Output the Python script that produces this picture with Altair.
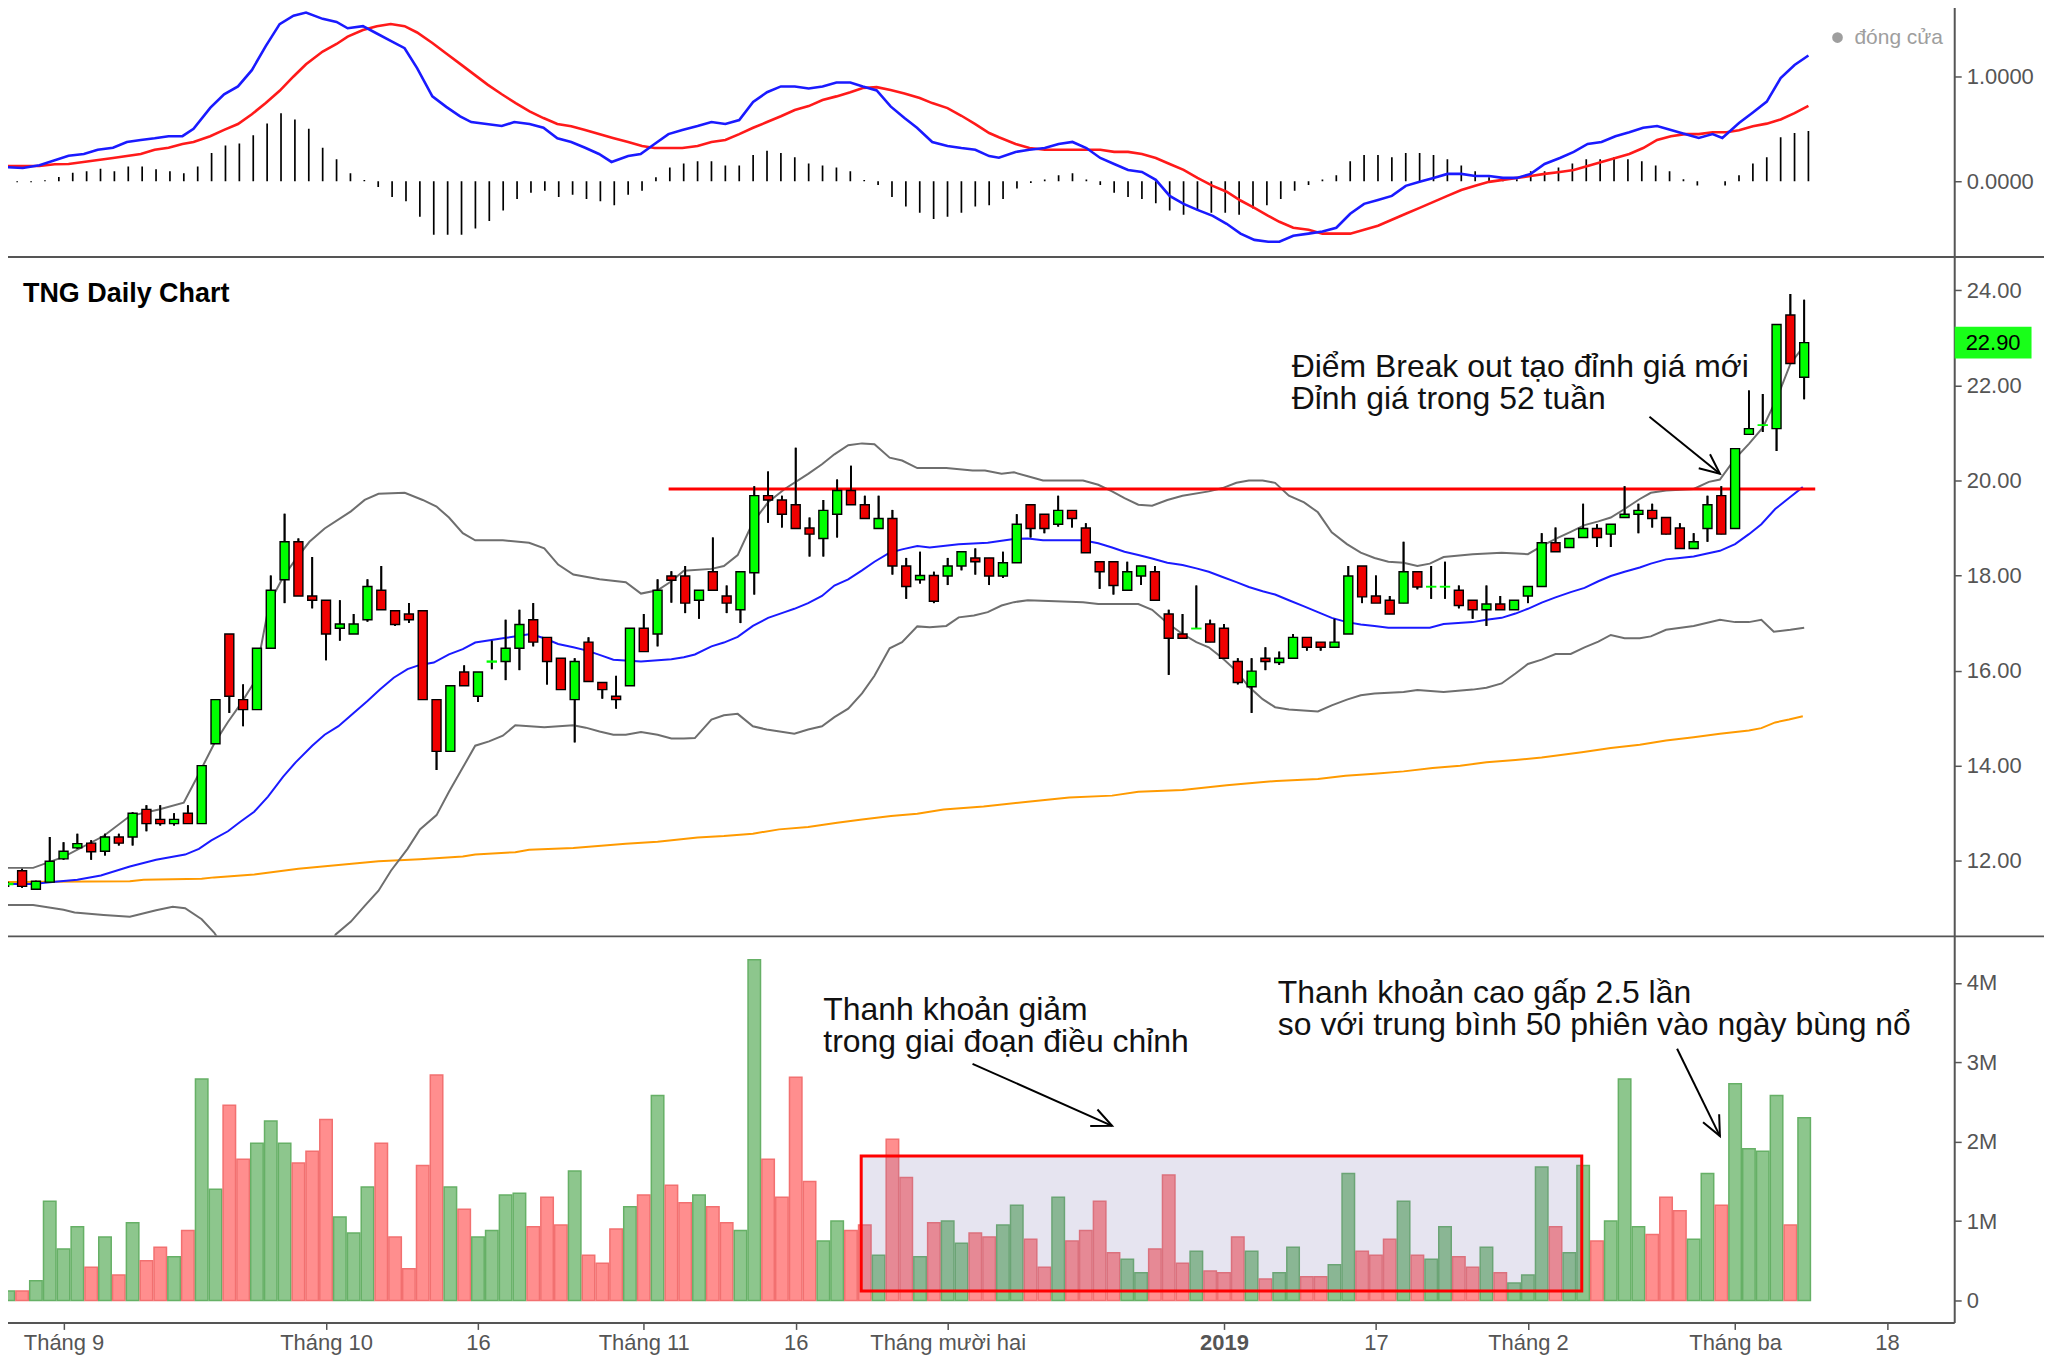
import json
import math
import altair as alt
import pandas as pd

# ---------------- data ----------------
opens = [
    11.50, 11.79, 11.40, 11.55, 12.04, 12.27, 12.37, 12.20, 12.50, 12.50,
    13.08, 12.87, 12.78, 13.00, 12.78, 14.46, 16.77, 15.39, 15.18, 16.47,
    17.91, 18.71, 17.57, 17.48, 16.89, 16.77, 17.07, 17.69, 17.26, 17.19,
    17.26, 15.39, 14.30, 15.97, 15.46, 16.18, 16.19, 16.47, 17.07, 16.70,
    16.26, 15.39, 16.60, 15.75, 15.46, 15.68, 16.89, 16.77, 17.99, 17.99,
    17.48, 18.08, 17.57, 17.28, 18.06, 19.68, 19.59, 19.49, 19.00, 18.78,
    19.29, 19.79, 19.49, 18.99, 19.20, 18.20, 17.91, 18.00, 17.99, 18.20,
    18.37, 18.37, 17.99, 18.27, 19.49, 19.29, 19.08, 19.37, 19.00, 18.29,
    18.29, 17.69, 17.99, 18.08, 17.19, 16.77, 16.88, 16.98, 16.89, 16.19,
    15.66, 16.26, 16.17, 16.26, 16.70, 16.60, 16.49, 16.77, 18.20, 17.57,
    17.48, 17.42, 18.08, 17.76, 17.76, 17.69, 17.48, 17.28, 17.40, 17.28,
    17.57, 17.77, 18.69, 18.59, 18.80, 18.99, 18.87, 19.22, 19.29, 19.37,
    19.22, 19.00, 18.57, 18.99, 19.68, 18.99, 20.97, 21.16, 21.09, 23.48,
    22.17]
closes = [
    11.52, 11.46, 11.57, 11.99, 12.20, 12.36, 12.19, 12.50, 12.37, 13.00,
    12.78, 12.78, 12.87, 12.78, 14.00, 15.39, 15.46, 15.18, 16.47, 17.69,
    18.71, 17.57, 17.48, 16.77, 16.98, 16.98, 17.77, 17.28, 16.97, 17.07,
    15.39, 14.30, 15.68, 15.68, 15.97, 16.20, 16.47, 16.97, 16.60, 16.19,
    15.60, 16.19, 15.77, 15.60, 15.39, 16.89, 16.40, 17.69, 17.90, 17.42,
    17.69, 17.69, 17.42, 18.08, 19.68, 19.59, 19.29, 18.99, 18.87, 19.37,
    19.79, 19.49, 19.20, 19.20, 18.20, 17.77, 18.00, 17.46, 18.20, 18.50,
    18.29, 17.99, 18.27, 19.08, 18.99, 18.99, 19.37, 19.20, 18.48, 18.08,
    17.79, 18.08, 18.20, 17.48, 16.68, 16.68, 16.89, 16.60, 16.26, 15.75,
    15.99, 16.19, 16.26, 16.70, 16.49, 16.49, 16.60, 17.99, 17.55, 17.42,
    17.19, 18.08, 17.76, 17.77, 17.77, 17.37, 17.28, 17.40, 17.28, 17.48,
    17.77, 18.69, 18.50, 18.78, 18.99, 18.80, 19.08, 19.29, 19.37, 19.20,
    18.87, 18.57, 18.71, 19.49, 18.87, 20.67, 21.09, 21.17, 23.28, 22.46,
    22.90]
highs = [
    11.56, 11.83, 11.58, 12.50, 12.39, 12.57, 12.43, 12.57, 12.57, 13.02,
    13.17, 13.17, 13.00, 13.17, 14.00, 15.39, 16.77, 15.71, 16.47, 18.00,
    19.30, 18.78, 18.39, 17.48, 17.48, 17.19, 17.92, 18.20, 17.26, 17.42,
    17.26, 15.39, 15.68, 16.11, 15.97, 16.63, 17.07, 17.28, 17.42, 16.70,
    16.26, 16.26, 16.70, 15.75, 15.89, 16.89, 17.19, 17.92, 18.09, 18.20,
    17.69, 18.80, 17.79, 18.08, 19.88, 20.19, 19.68, 20.69, 19.22, 19.59,
    20.02, 20.31, 19.68, 19.68, 19.38, 18.37, 18.50, 18.08, 18.37, 18.50,
    18.57, 18.37, 18.50, 19.29, 19.49, 19.29, 19.68, 19.37, 19.10, 18.29,
    18.29, 18.29, 18.20, 18.20, 17.28, 17.19, 17.79, 17.07, 16.98, 16.26,
    16.26, 16.49, 16.40, 16.77, 16.70, 16.60, 17.09, 18.20, 18.20, 18.00,
    17.57, 18.71, 18.08, 18.20, 18.29, 17.79, 17.48, 17.79, 17.57, 17.48,
    17.77, 18.89, 19.01, 18.78, 19.51, 19.08, 19.08, 19.88, 19.51, 19.51,
    19.22, 19.10, 18.89, 19.68, 19.88, 20.67, 21.89, 21.82, 23.28, 23.92,
    23.80]
lows = [
    11.45, 11.43, 11.39, 11.55, 12.02, 12.25, 12.02, 12.11, 12.32, 12.32,
    12.62, 12.74, 12.74, 12.78, 12.78, 14.46, 15.11, 14.83, 15.18, 16.47,
    17.42, 17.57, 17.31, 16.22, 16.63, 16.77, 17.03, 17.28, 16.94, 17.00,
    15.39, 13.91, 14.30, 15.68, 15.34, 16.03, 15.80, 16.01, 16.51, 15.71,
    15.60, 14.49, 15.77, 15.41, 15.20, 15.68, 16.40, 16.51, 17.43, 17.21,
    17.09, 17.69, 17.21, 17.00, 17.60, 19.11, 19.01, 18.99, 18.40, 18.40,
    18.80, 19.49, 19.20, 18.99, 18.02, 17.51, 17.83, 17.42, 17.80, 18.11,
    18.02, 17.80, 17.95, 18.27, 18.80, 18.89, 19.03, 19.01, 18.48, 17.72,
    17.60, 17.69, 17.80, 17.48, 15.91, 16.68, 16.88, 16.60, 16.26, 15.71,
    15.11, 16.01, 16.12, 16.26, 16.42, 16.42, 16.49, 16.77, 17.42, 17.42,
    17.19, 17.42, 17.71, 17.51, 17.51, 17.31, 17.09, 16.94, 17.28, 17.28,
    17.42, 17.77, 18.50, 18.59, 18.80, 18.60, 18.60, 19.22, 18.89, 19.01,
    18.87, 18.57, 18.57, 18.71, 18.87, 18.99, 20.97, 21.02, 20.62, 22.46,
    21.71]
volumes_m = [
    0.12, 0.12, 0.25, 1.25, 0.65, 0.93, 0.42, 0.80, 0.32, 0.98,
    0.50, 0.67, 0.55, 0.88, 2.79, 1.40, 2.46, 1.78, 1.98, 2.26,
    1.98, 1.73, 1.88, 2.28, 1.05, 0.85, 1.43, 1.98, 0.80, 0.40,
    1.70, 2.84, 1.43, 1.15, 0.80, 0.88, 1.33, 1.35, 0.93, 1.30,
    0.95, 1.63, 0.57, 0.47, 0.90, 1.18, 1.33, 2.58, 1.45, 1.23,
    1.33, 1.18, 0.98, 0.88, 4.29, 1.78, 1.30, 2.81, 1.50, 0.75,
    1.00, 0.88, 0.95, 0.57, 2.03, 1.55, 0.55, 0.98, 1.00, 0.72,
    0.85, 0.80, 0.95, 1.20, 0.77, 0.42, 1.30, 0.75, 0.88, 1.25,
    0.60, 0.52, 0.35, 0.65, 1.58, 0.47, 0.62, 0.37, 0.35, 0.80,
    0.62, 0.27, 0.35, 0.67, 0.30, 0.30, 0.45, 1.60, 0.62, 0.57,
    0.77, 1.25, 0.57, 0.52, 0.93, 0.55, 0.42, 0.67, 0.35, 0.22,
    0.32, 1.68, 0.93, 0.60, 1.70, 0.75, 1.00, 2.79, 0.93, 0.83,
    1.30, 1.13, 0.77, 1.60, 1.20, 2.73, 1.91, 1.88, 2.58, 0.95,
    2.30]
macd_hist = [
    0.0, -0.01, -0.01, 0.01, 0.04, 0.08, 0.095, 0.12, 0.095, 0.14,
    0.14, 0.115, 0.095, 0.076, 0.14, 0.27, 0.34, 0.36, 0.44, 0.55,
    0.65, 0.59, 0.50, 0.32, 0.21, 0.076, 0.013, -0.054, -0.15, -0.19,
    -0.34, -0.51, -0.51, -0.51, -0.45, -0.38, -0.28, -0.17, -0.11, -0.09,
    -0.15, -0.13, -0.17, -0.19, -0.23, -0.13, -0.09, 0.038, 0.13, 0.17,
    0.19, 0.19, 0.15, 0.15, 0.25, 0.29, 0.27, 0.23, 0.17, 0.15,
    0.13, 0.095, 0.013, -0.035, -0.15, -0.24, -0.30, -0.36, -0.34, -0.30,
    -0.24, -0.23, -0.17, -0.07, -0.016, 0.016, 0.057, 0.076, 0.016, -0.035,
    -0.11, -0.15, -0.17, -0.21, -0.28, -0.32, -0.28, -0.30, -0.30, -0.32,
    -0.26, -0.23, -0.17, -0.09, -0.035, 0.016, 0.057, 0.19, 0.25, 0.25,
    0.23, 0.27, 0.27, 0.25, 0.21, 0.15, 0.095, 0.038, 0.013, 0.02,
    0.095, 0.095, 0.13, 0.17, 0.21, 0.21, 0.23, 0.21, 0.19, 0.15,
    0.095, 0.02, -0.04, 0.0, -0.04, 0.057, 0.17, 0.23, 0.42, 0.46,
    0.48]

macd_line = [
    (-0.2, 0.137), (1.4, 0.127), (2.6, 0.152), (4.7, 0.244), (5.8, 0.26), (6.8, 0.30), (7.9, 0.32),
    (8.9, 0.375), (9.9, 0.394), (10.9, 0.41), (11.9, 0.43), (12.9, 0.43), (13.7, 0.50), (14.9, 0.70),
    (15.9, 0.83), (16.9, 0.905), (17.9, 1.06), (18.9, 1.29), (19.9, 1.50), (20.9, 1.58), (21.8, 1.61),
    (23.0, 1.55), (24.0, 1.52), (24.8, 1.46), (25.9, 1.48), (26.9, 1.41), (27.9, 1.34), (28.9, 1.27),
    (29.8, 1.08), (30.9, 0.81), (31.9, 0.71), (32.9, 0.62), (33.7, 0.565), (35.9, 0.527), (36.8, 0.565),
    (37.9, 0.546), (38.9, 0.51), (39.9, 0.41), (40.9, 0.375), (41.9, 0.32), (42.9, 0.26), (43.8, 0.184),
    (45.0, 0.24), (45.9, 0.26), (46.9, 0.356), (47.9, 0.45), (48.9, 0.49), (50.0, 0.527), (51.0, 0.565),
    (52.0, 0.546), (53.0, 0.584), (54.0, 0.756), (55.0, 0.85), (56.0, 0.905), (57.0, 0.905), (58.0, 0.886),
    (59.0, 0.905), (60.0, 0.943), (61.0, 0.943), (61.9, 0.905), (62.9, 0.867), (63.9, 0.714), (64.9, 0.603),
    (65.8, 0.51), (66.9, 0.375), (68.0, 0.337), (69.0, 0.317), (70.0, 0.30), (71.0, 0.24), (71.7, 0.225),
    (72.9, 0.28), (73.9, 0.30), (75.0, 0.317), (76.0, 0.356), (77.0, 0.375), (78.0, 0.317), (79.0, 0.222),
    (80.0, 0.165), (81.0, 0.108), (82.0, 0.089), (83.0, 0.013), (84.0, -0.14), (85.0, -0.216), (86.0, -0.273),
    (87.1, -0.33), (88.1, -0.406), (89.1, -0.50), (90.1, -0.56), (91.1, -0.578), (91.9, -0.578), (92.9, -0.52),
    (94.0, -0.50), (95.0, -0.48), (96.0, -0.444), (97.0, -0.31), (98.0, -0.216), (99.0, -0.178), (100.0, -0.14),
    (101.0, -0.044), (102.0, -0.006), (103.0, 0.032), (104.0, 0.07), (105.0, 0.07), (106.0, 0.05), (107.0, 0.05),
    (108.0, 0.032), (109.0, 0.032), (110.0, 0.07), (111.0, 0.165), (112.1, 0.222), (113.1, 0.28), (114.1, 0.356),
    (115.1, 0.375), (116.1, 0.43), (117.1, 0.467), (118.1, 0.51), (119.1, 0.527), (120.1, 0.49), (121.1, 0.45),
    (122.1, 0.413), (123.1, 0.45), (123.8, 0.413), (125.0, 0.556), (126.0, 0.657), (127.0, 0.76), (128.0, 0.984),
    (129.0, 1.11), (130.0, 1.20)]
signal_line = [
    (-0.2, 0.146), (2.6, 0.146), (3.7, 0.162), (4.7, 0.165), (7.9, 0.222), (9.9, 0.26), (10.9, 0.30),
    (11.9, 0.32), (12.9, 0.356), (13.7, 0.375), (14.9, 0.43), (15.9, 0.49), (16.9, 0.546), (17.9, 0.64),
    (18.9, 0.746), (19.9, 0.863), (20.9, 1.0), (21.8, 1.117), (23.0, 1.238), (24.0, 1.31), (24.8, 1.38),
    (25.9, 1.444), (26.9, 1.48), (27.9, 1.50), (28.9, 1.48), (29.8, 1.42), (30.9, 1.32), (31.9, 1.22),
    (32.9, 1.12), (33.9, 1.02), (34.9, 0.92), (35.9, 0.83), (36.9, 0.746), (37.9, 0.667), (38.9, 0.603),
    (39.9, 0.546), (40.9, 0.524), (41.9, 0.49), (42.9, 0.45), (43.9, 0.413), (45.0, 0.375), (46.0, 0.337),
    (46.9, 0.317), (48.9, 0.317), (50.0, 0.337), (51.0, 0.375), (52.0, 0.394), (53.0, 0.45), (54.0, 0.51),
    (55.0, 0.565), (56.0, 0.62), (57.0, 0.68), (58.0, 0.717), (59.0, 0.775), (60.0, 0.81), (61.0, 0.85),
    (61.9, 0.89), (62.9, 0.898), (63.9, 0.87), (64.9, 0.838), (66.0, 0.794), (66.9, 0.746), (68.0, 0.698),
    (69.0, 0.625), (70.0, 0.546), (71.0, 0.46), (71.7, 0.42), (72.9, 0.356), (73.9, 0.317), (75.0, 0.30),
    (79.0, 0.30), (80.0, 0.28), (81.0, 0.28), (82.0, 0.26), (83.0, 0.222), (84.0, 0.165), (85.0, 0.108),
    (86.0, 0.032), (87.1, -0.044), (88.1, -0.10), (89.1, -0.184), (90.1, -0.254), (91.1, -0.33), (91.9, -0.387),
    (92.9, -0.444), (94.0, -0.463), (95.0, -0.50), (97.0, -0.50), (98.0, -0.463), (99.0, -0.425), (100.0, -0.368),
    (101.0, -0.31), (102.0, -0.254), (103.0, -0.197), (104.0, -0.14), (105.0, -0.083), (106.0, -0.044),
    (107.0, -0.006), (108.0, 0.013), (109.0, 0.032), (110.0, 0.05), (111.0, 0.07), (112.1, 0.089), (113.1, 0.108),
    (114.1, 0.146), (115.1, 0.184), (116.1, 0.222), (117.1, 0.26), (118.1, 0.317), (119.1, 0.394), (120.1, 0.43),
    (121.1, 0.45), (122.1, 0.45), (123.1, 0.467), (124.1, 0.467), (125.0, 0.486), (126.0, 0.524), (127.0, 0.55),
    (128.0, 0.59), (129.0, 0.65), (130.0, 0.72)]

bb_upper = [
    (-0.2, 11.85), (1.8, 11.85), (4.0, 12.08), (6.9, 12.52), (8.8, 12.94), (10.9, 13.08), (12.7, 13.22),
    (13.6, 13.72), (14.9, 14.46), (15.9, 14.92), (16.8, 15.29), (17.8, 15.75), (18.9, 17.42), (19.9, 17.97),
    (20.8, 18.34), (21.8, 18.71), (22.9, 18.99), (24.8, 19.35), (25.8, 19.59), (26.8, 19.72), (28.7, 19.74),
    (30.0, 19.59), (31.0, 19.45), (31.9, 19.22), (32.9, 18.89), (33.8, 18.74), (35.8, 18.74), (37.7, 18.69),
    (38.8, 18.57), (39.8, 18.23), (40.9, 18.02), (42.8, 17.92), (44.7, 17.86), (45.8, 17.62), (47.0, 17.69),
    (48.0, 17.88), (48.9, 18.10), (50.9, 18.14), (51.8, 18.20), (52.8, 18.43), (53.9, 19.12), (55.0, 19.54),
    (56.2, 19.82), (57.9, 20.14), (58.9, 20.34), (59.8, 20.55), (60.8, 20.74), (61.8, 20.78), (62.7, 20.76),
    (63.8, 20.48), (64.7, 20.42), (65.8, 20.26), (67.9, 20.26), (69.8, 20.21), (70.7, 20.21), (71.9, 20.14),
    (72.8, 20.17), (73.8, 20.09), (74.9, 20.00), (77.8, 20.00), (78.9, 19.91), (79.9, 19.77), (80.8, 19.63),
    (81.8, 19.49), (82.8, 19.47), (83.9, 19.59), (85.0, 19.68), (86.9, 19.77), (87.9, 19.84), (88.9, 19.95),
    (89.8, 20.00), (90.8, 20.00), (91.7, 19.95), (92.7, 19.68), (93.8, 19.54), (94.8, 19.33), (95.8, 18.91),
    (96.9, 18.66), (97.9, 18.48), (98.9, 18.37), (99.9, 18.29), (101.0, 18.27), (102.0, 18.20), (102.9, 18.25),
    (103.9, 18.39), (106.0, 18.45), (108.1, 18.48), (110.0, 18.45), (111.0, 18.62), (112.0, 18.77),
    (113.1, 18.92), (114.1, 19.06), (115.1, 19.14), (116.0, 19.22), (117.0, 19.40), (118.1, 19.61),
    (118.9, 19.74), (120.0, 19.79), (122.0, 19.82), (123.1, 19.97), (123.9, 20.02), (125.0, 20.46),
    (126.0, 20.77), (127.0, 21.11), (128.0, 21.71), (129.0, 22.45), (130.0, 22.84)]
bb_lower = [
    (-0.2, 11.07), (1.8, 11.07), (4.0, 10.97), (4.8, 10.91), (6.9, 10.86), (8.8, 10.82), (10.7, 10.96),
    (11.9, 11.03), (12.8, 11.00), (14.0, 10.77), (14.9, 10.49), (16.0, 10.0), (17.0, 9.4), (18.0, 8.9),
    (19.0, 8.6), (20.0, 8.5), (21.0, 8.7), (22.0, 9.3), (23.0, 10.0), (23.7, 10.45), (24.8, 10.72),
    (25.8, 11.05), (26.8, 11.37), (27.7, 11.79), (28.9, 12.25), (29.8, 12.66), (31.0, 12.96), (31.9, 13.45),
    (32.9, 13.96), (33.8, 14.42), (34.8, 14.51), (35.8, 14.63), (36.7, 14.85), (38.8, 14.81), (40.9, 14.85),
    (41.8, 14.80), (42.8, 14.72), (43.8, 14.65), (44.7, 14.65), (45.8, 14.71), (47.0, 14.65), (48.0, 14.57),
    (48.9, 14.57), (49.7, 14.58), (50.9, 14.97), (51.8, 15.06), (52.8, 15.09), (53.9, 14.83), (54.9, 14.76),
    (56.9, 14.67), (57.9, 14.76), (58.9, 14.83), (59.8, 15.02), (60.8, 15.20), (61.8, 15.52), (62.7, 15.89),
    (63.8, 16.47), (64.7, 16.60), (65.8, 16.93), (66.7, 16.91), (67.9, 16.94), (68.8, 17.12), (69.9, 17.16),
    (70.9, 17.23), (71.9, 17.37), (72.8, 17.44), (73.8, 17.48), (77.8, 17.44), (78.9, 17.40), (81.8, 17.40),
    (82.8, 17.28), (83.9, 17.00), (85.0, 16.77), (86.0, 16.60), (86.9, 16.49), (87.9, 16.26), (88.9, 15.99),
    (89.8, 15.66), (90.8, 15.40), (91.7, 15.23), (92.7, 15.18), (94.8, 15.14), (95.8, 15.27), (96.9, 15.39),
    (97.9, 15.48), (98.9, 15.52), (101.0, 15.55), (102.0, 15.59), (103.9, 15.55), (106.0, 15.60),
    (107.0, 15.64), (108.1, 15.73), (109.1, 15.94), (110.0, 16.14), (111.0, 16.23), (112.0, 16.35),
    (113.1, 16.35), (114.1, 16.49), (115.1, 16.61), (116.0, 16.75), (117.0, 16.68), (118.1, 16.68),
    (118.9, 16.72), (120.0, 16.86), (122.0, 16.94), (123.9, 17.07), (125.0, 17.02), (126.0, 17.02),
    (126.9, 17.07), (127.8, 16.82), (129.0, 16.86), (130.0, 16.90)]
ma20 = [
    (-0.2, 11.51), (1.8, 11.51), (3.0, 11.55), (5.0, 11.60), (6.7, 11.69), (8.8, 11.88), (10.7, 12.02),
    (12.8, 12.13), (13.8, 12.25), (14.7, 12.43), (15.9, 12.62), (16.8, 12.82), (17.8, 13.03), (18.8, 13.35),
    (19.9, 13.77), (20.8, 14.07), (22.0, 14.42), (22.9, 14.65), (23.9, 14.83), (25.0, 15.11), (26.0, 15.36),
    (26.9, 15.60), (27.9, 15.85), (28.9, 16.03), (29.8, 16.12), (30.8, 16.17), (31.9, 16.34), (32.9, 16.45),
    (33.8, 16.59), (35.8, 16.68), (37.8, 16.77), (38.8, 16.68), (39.8, 16.56), (40.9, 16.49), (41.9, 16.42),
    (42.8, 16.33), (43.8, 16.23), (45.8, 16.19), (48.0, 16.24), (48.9, 16.28), (49.7, 16.34), (50.9, 16.51),
    (51.8, 16.59), (52.8, 16.71), (53.9, 16.94), (55.0, 17.11), (56.2, 17.23), (56.9, 17.30), (57.9, 17.42),
    (58.9, 17.57), (59.8, 17.79), (60.8, 17.92), (61.8, 18.11), (62.7, 18.29), (63.8, 18.48), (64.7, 18.55),
    (65.8, 18.62), (66.7, 18.59), (68.8, 18.66), (70.9, 18.69), (71.9, 18.73), (72.8, 18.77), (73.8, 18.78),
    (74.9, 18.74), (77.8, 18.74), (78.9, 18.68), (79.9, 18.59), (80.8, 18.50), (81.8, 18.43), (82.8, 18.36),
    (83.9, 18.27), (85.0, 18.22), (86.0, 18.15), (86.9, 18.08), (87.9, 17.97), (88.9, 17.86), (89.8, 17.76),
    (90.8, 17.67), (91.7, 17.60), (92.7, 17.48), (93.8, 17.35), (94.8, 17.23), (95.8, 17.11), (96.9, 17.02),
    (97.9, 16.97), (98.9, 16.94), (99.9, 16.90), (102.9, 16.90), (103.9, 16.98), (106.0, 17.02), (107.0, 17.07),
    (108.1, 17.11), (109.1, 17.20), (110.0, 17.30), (111.0, 17.43), (112.0, 17.54), (113.1, 17.65),
    (114.1, 17.74), (115.1, 17.88), (116.0, 17.99), (117.0, 18.08), (118.1, 18.17), (118.9, 18.25),
    (120.0, 18.34), (121.0, 18.37), (122.0, 18.40), (122.9, 18.46), (123.9, 18.52), (125.0, 18.66),
    (126.0, 18.87), (126.9, 19.08), (127.9, 19.40), (128.9, 19.63), (129.9, 19.86)]
ma200 = [
    (-0.2, 11.55), (8.8, 11.57), (9.8, 11.60), (14.0, 11.62), (14.9, 11.65), (17.8, 11.71), (21.0, 11.83),
    (23.9, 11.91), (26.8, 11.99), (29.8, 12.03), (32.9, 12.09), (33.8, 12.13), (36.7, 12.18), (37.7, 12.23),
    (40.9, 12.27), (44.7, 12.36), (47.0, 12.40), (49.9, 12.49), (51.8, 12.52), (53.9, 12.57), (55.8, 12.66),
    (57.9, 12.71), (60.0, 12.80), (61.8, 12.87), (63.9, 12.94), (65.8, 12.99), (67.7, 13.08), (70.6, 13.14),
    (73.8, 13.24), (76.8, 13.33), (79.9, 13.37), (81.8, 13.45), (85.0, 13.49), (88.2, 13.59), (91.8, 13.68),
    (94.8, 13.72), (96.8, 13.79), (98.9, 13.83), (101.0, 13.88), (103.1, 13.95), (105.1, 14.00), (107.0, 14.07),
    (109.1, 14.12), (111.0, 14.17), (113.9, 14.28), (116.0, 14.37), (118.1, 14.44), (120.0, 14.53),
    (122.0, 14.60), (123.9, 14.67), (126.0, 14.74), (126.9, 14.79), (127.9, 14.91), (128.9, 14.97),
    (129.9, 15.04)]

tick_idx = [4, 23, 34, 46, 57, 68, 88, 99, 110, 125, 136]
tick_labels = ["Tháng 9", "Tháng 10", "16", "Tháng 11", "16", "Tháng mười hai",
               "2019", "17", "Tháng 2", "Tháng ba", "18"]
bold_label = "2019"

chart_title = "TNG Daily Chart"
legend_label = "đóng cửa"
last_price = [22.90]
resistance_level = [19.82]
resistance_from = [47.8]
resistance_to = [130.8]

price_note_x = [92.9]
price_note_y = [22.17]
price_note_text = ["Điểm Break out tạo đỉnh giá mới\nĐỉnh giá trong 52 tuần"]
price_arrow = [(118.8, 21.34, 123.9, 20.14)]

vol_note_x = [59.0, 91.9]
vol_note_y = [3.53, 3.75]
vol_note_text = ["Thanh khoản giảm\ntrong giai đoạn điều chỉnh",
                 "Thanh khoản cao gấp 2.5 lần\nso với trung bình 50 phiên vào ngày bùng nổ"]
vol_arrows = [(69.8, 2.98, 79.9, 2.20), (120.8, 3.17, 123.9, 2.07)]
vol_box = [(61.74, 113.9, 1.82, 0.12)]

# ---------------- layout / style ----------------
W = 1958
X_DOM = [-0.165, 140.5]
H_MACD, H_PRICE, H_VOL = 255, 680, 387
MACD_DOM = [-0.714, 1.714]
PRICE_DOM = [10.43, 24.70]
VOL_DOM = [-0.276, 4.585]
FONT = "Liberation Sans"
AX = "#555555"
UP = "datum.close >= datum.open"
HEAD = "M-0.45,-1L0,0L0.45,-1"
BOX = "M-1,-0.4156H1V0.4156H-1Z"

px_x = W / (X_DOM[1] - X_DOM[0])


def head_angle(x0, y0, x1, y1, px_y):
    dx = (x1 - x0) * px_x
    dy = -(y1 - y0) * px_y
    return math.degrees(math.atan2(-dx, dy)) % 360


# identical axis objects are given to every layer of a panel so that they merge cleanly
X_HIDDEN = alt.Axis(labels=False, ticks=False, domain=False, grid=False, title=None)
label_expr = (f"{json.dumps(tick_labels, ensure_ascii=False)}"
              f"[indexof({json.dumps(tick_idx)}, datum.value)]")
bold_value = tick_idx[tick_labels.index(bold_label)]
X_DATES = alt.Axis(values=tick_idx, labelExpr=label_expr, labelFlush=False, labelOverlap=False,
                   labelPadding=3, tickSize=7, grid=False, title=None,
                   labelFontWeight={"condition": {"test": f"datum.value == {bold_value}",
                                                  "value": "bold"}, "value": "normal"})
Y_MACD = alt.Axis(orient="right", values=[0, 1], format=".4f", grid=False, title=None)
Y_PRICE = alt.Axis(orient="right", values=[12, 14, 16, 18, 20, 22, 24], format=".2f",
                   grid=False, title=None)
Y_VOL = alt.Axis(orient="right", values=[0, 1, 2, 3, 4], grid=False, title=None,
                 labelExpr="datum.value == 0 ? '0' : datum.value + 'M'")


def xenc(field, axis):
    return alt.X(f"{field}:Q", scale=alt.Scale(domain=X_DOM, nice=False, zero=False), axis=axis)


def yenc(field, dom, axis):
    return alt.Y(f"{field}:Q", scale=alt.Scale(domain=dom, nice=False, zero=False), axis=axis)


def pts(points):
    return pd.DataFrame(points, columns=["idx", "value"])


candles = pd.DataFrame({"idx": list(range(len(closes))), "open": opens, "high": highs,
                        "low": lows, "close": closes, "volume": volumes_m, "hist": macd_hist})
one = pd.DataFrame({"k": [0]})

# ---------------- MACD panel ----------------
mx = lambda f: xenc(f, X_HIDDEN)
my = lambda f: yenc(f, MACD_DOM, Y_MACD)
macd_panel = alt.layer(
    alt.Chart(candles).mark_rule(color="black", strokeWidth=1.7, clip=True).encode(
        x=mx("idx"), y=my("hist"), y2=alt.datum(0)),
    alt.Chart(pts(signal_line)).mark_line(color="#ff1a1a", strokeWidth=2.6, clip=True).encode(
        x=mx("idx"), y=my("value")),
    alt.Chart(pts(macd_line)).mark_line(color="#1a1aff", strokeWidth=2.6, clip=True).encode(
        x=mx("idx"), y=my("value")),
    alt.Chart(one).mark_circle(size=115, color="#9e9e9e", opacity=1).encode(
        x=alt.value(1841), y=alt.value(36)),
    alt.Chart(one).mark_text(align="left", baseline="middle", fontSize=21, font=FONT,
                             color="#9e9e9e").encode(
        x=alt.value(1858), y=alt.value(36), text=alt.value(legend_label)),
).properties(width=W, height=H_MACD)

# ---------------- price panel ----------------
px_ = lambda f: xenc(f, X_HIDDEN)
py_ = lambda f: yenc(f, PRICE_DOM, Y_PRICE)
res_df = pd.DataFrame({"x0": resistance_from, "x1": resistance_to, "level": resistance_level})
pnote_df = pd.DataFrame({"x": price_note_x, "y": price_note_y, "text": price_note_text})
parrow_df = pd.DataFrame(price_arrow, columns=["x0", "y0", "x1", "y1"])
px_price = H_PRICE / (PRICE_DOM[1] - PRICE_DOM[0])
parrow_df["angle"] = [head_angle(*r, px_price) for r in price_arrow]
last_df = pd.DataFrame({"price": last_price, "label": [f"{p:.2f}" for p in last_price]})

price_panel = alt.layer(
    alt.Chart(candles).mark_rule(color="black", strokeWidth=1.8, clip=True).encode(
        x=px_("idx"), y=py_("low"), y2="high:Q"),
    alt.Chart(one).mark_rule(color=AX, strokeWidth=2).encode(
        x=alt.value(0), x2=alt.value(W + 90), y=alt.value(0)),
    alt.Chart(pts(ma200)).mark_line(color="#ff9a00", strokeWidth=2, clip=True).encode(
        x=px_("idx"), y=py_("value")),
    alt.Chart(pts(bb_upper)).mark_line(color="#6e6e6e", strokeWidth=2, clip=True).encode(
        x=px_("idx"), y=py_("value")),
    alt.Chart(pts(bb_lower)).mark_line(color="#6e6e6e", strokeWidth=2, clip=True).encode(
        x=px_("idx"), y=py_("value")),
    alt.Chart(pts(ma20)).mark_line(color="#1a1aff", strokeWidth=2, clip=True).encode(
        x=px_("idx"), y=py_("value")),
    alt.Chart(res_df).mark_rule(color="#ff0000", strokeWidth=3).encode(
        x=px_("x0"), x2="x1:Q", y=py_("level")),
    alt.Chart(candles).mark_rule(color="black", strokeWidth=1.8, clip=True).encode(
        x=px_("idx"), y=py_("low"), y2="high:Q"),
    alt.Chart(candles).mark_bar(size=9, strokeWidth=1.4, clip=True).encode(
        x=px_("idx"), y=py_("open"), y2="close:Q",
        fill=alt.condition(UP, alt.value("#00ff00"), alt.value("#f00000")),
        stroke=alt.condition("abs(datum.close - datum.open) < 0.03",
                             alt.value("#00ff00"), alt.value("black"))),
    alt.Chart(one).mark_text(align="left", baseline="middle", fontSize=27, fontWeight="bold",
                             font=FONT, color="black").encode(
        x=alt.value(22), y=alt.value(37), text=alt.value(chart_title)),
    alt.Chart(pnote_df).mark_text(align="left", baseline="alphabetic", fontSize=32, lineHeight=32,
                                  font=FONT, color="#111111", lineBreak="\n").encode(
        x=px_("x"), y=py_("y"), text="text:N"),
    alt.Chart(parrow_df).mark_rule(color="black", strokeWidth=2).encode(
        x=px_("x0"), y=py_("y0"), x2="x1:Q", y2="y1:Q"),
    alt.Chart(parrow_df).mark_point(shape=HEAD, filled=False, size=1600, strokeWidth=2,
                                    color="black", opacity=1).encode(
        x=px_("x1"), y=py_("y1"), angle=alt.Angle("angle:Q", scale=None)),
    alt.Chart(last_df).mark_point(shape=BOX, filled=True, size=77 ** 2, color="#19ff19",
                                  opacity=1, strokeWidth=0).encode(
        x=alt.value(W + 39), y=py_("price")),
    alt.Chart(last_df).mark_text(align="center", baseline="middle", fontSize=22, font=FONT,
                                 color="black").encode(
        x=alt.value(W + 39), y=py_("price"), text="label:N"),
).properties(width=W, height=H_PRICE)

# ---------------- volume panel ----------------
vx = lambda f: xenc(f, X_DATES)
vy = lambda f: yenc(f, VOL_DOM, Y_VOL)
box_df = pd.DataFrame(vol_box, columns=["x0", "x1", "top", "bottom"])
vnote_df = pd.DataFrame({"x": vol_note_x, "y": vol_note_y, "text": vol_note_text})
varrow_df = pd.DataFrame(vol_arrows, columns=["x0", "y0", "x1", "y1"])
px_vol = H_VOL / (VOL_DOM[1] - VOL_DOM[0])
varrow_df["angle"] = [head_angle(*r, px_vol) for r in vol_arrows]

vol_panel = alt.layer(
    alt.Chart(candles).mark_bar(size=12.5, strokeWidth=1.5, clip=True).encode(
        x=vx("idx"), y=vy("volume"), y2=alt.datum(0),
        fill=alt.condition(UP, alt.value("#8dc68d"), alt.value("#ff8e8e")),
        stroke=alt.condition(UP, alt.value("#66b066"), alt.value("#f27070"))),
    alt.Chart(one).mark_rule(color=AX, strokeWidth=2).encode(
        x=alt.value(0), x2=alt.value(W + 90), y=alt.value(0)),
    alt.Chart(box_df).mark_rect(fill="#8278b4", fillOpacity=0.2, stroke="#ff0000",
                                strokeWidth=3).encode(
        x=vx("x0"), x2="x1:Q", y=vy("top"), y2="bottom:Q"),
    alt.Chart(vnote_df).mark_text(align="left", baseline="alphabetic", fontSize=32, lineHeight=32,
                                  font=FONT, color="#111111", lineBreak="\n").encode(
        x=vx("x"), y=vy("y"), text="text:N"),
    alt.Chart(varrow_df).mark_rule(color="black", strokeWidth=2).encode(
        x=vx("x0"), y=vy("y0"), x2="x1:Q", y2="y1:Q"),
    alt.Chart(varrow_df).mark_point(shape=HEAD, filled=False, size=1600, strokeWidth=2,
                                    color="black", opacity=1).encode(
        x=vx("x1"), y=vy("y1"), angle=alt.Angle("angle:Q", scale=None)),
).properties(width=W, height=H_VOL)

chart = (
    alt.vconcat(macd_panel, price_panel, vol_panel, spacing=0)
    .resolve_scale(y="independent")
    .properties(background="white", padding={"left": -8, "top": -8, "right": 0, "bottom": 0})
    .configure_view(strokeWidth=0)
    .configure_axis(labelFont=FONT, labelFontSize=22, labelColor=AX, domainColor=AX,
                    domainWidth=2, tickColor=AX, tickWidth=1.5, tickSize=7, grid=False,
                    labelPadding=5)
)

chart.save("out.html", embed_options={"renderer": "svg", "actions": False})
